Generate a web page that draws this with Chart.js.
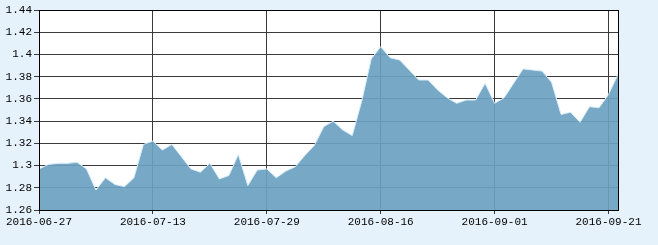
<!DOCTYPE html>
<html>
<head>
<meta charset="utf-8">
<script src="https://cdn.jsdelivr.net/npm/chart.js@4"></script>
<style>
  html, body { margin: 0; padding: 0; background: #e6f2fb; }
</style>
</head>
<body>
<canvas id="myChart" width="658" height="245" style="display:block"></canvas>
<script>
const dates = ['2016-06-27','2016-06-28','2016-06-29','2016-06-30','2016-07-01','2016-07-04','2016-07-05','2016-07-06','2016-07-07','2016-07-08',
  '2016-07-11','2016-07-12','2016-07-13','2016-07-14','2016-07-15','2016-07-18','2016-07-19','2016-07-20','2016-07-21','2016-07-22',
  '2016-07-25','2016-07-26','2016-07-27','2016-07-28','2016-07-29','2016-08-01','2016-08-02','2016-08-03','2016-08-04','2016-08-05',
  '2016-08-08','2016-08-09','2016-08-10','2016-08-11','2016-08-12','2016-08-15','2016-08-16','2016-08-17','2016-08-18','2016-08-19',
  '2016-08-22','2016-08-23','2016-08-24','2016-08-25','2016-08-26','2016-08-29','2016-08-30','2016-08-31','2016-09-01','2016-09-02',
  '2016-09-05','2016-09-06','2016-09-07','2016-09-08','2016-09-09','2016-09-12','2016-09-13','2016-09-14','2016-09-19','2016-09-20',
  '2016-09-21','2016-09-22']
const values = [1.297,1.301,1.302,1.302,1.303,1.297,1.278,1.289,1.283,1.281,
  1.289,1.319,1.322,1.314,1.319,1.308,1.297,1.294,1.302,1.288,
  1.291,1.310,1.282,1.296,1.297,1.289,1.295,1.299,1.309,1.318,
  1.335,1.340,1.332,1.327,1.358,1.396,1.407,1.397,1.395,1.386,
  1.377,1.377,1.368,1.361,1.356,1.359,1.359,1.374,1.356,1.361,
  1.374,1.387,1.386,1.385,1.375,1.346,1.348,1.339,1.353,1.352,
  1.364,1.382]
const labelEvery = 12
const yMin = 1.26, yMax = 1.44, yStep = 0.02

const bgPlugin = {
    id: 'bg',
    beforeDraw (chart) {
        const { ctx, chartArea: a } = chart
        ctx.save()
        ctx.fillStyle = '#e6f2fb'
        ctx.fillRect(0, 0, chart.width, chart.height)
        ctx.fillStyle = '#ffffff'
        ctx.fillRect(a.left, a.top, a.right - a.left, a.bottom - a.top)
        ctx.restore()
    },
    afterDraw (chart) {
        const { ctx, chartArea: a } = chart
        ctx.save()
        ctx.strokeStyle = '#000'
        ctx.lineWidth = 1
        ctx.strokeRect(Math.round(a.left) + 0.5, Math.round(a.top) + 0.5, Math.round(a.right - a.left), Math.round(a.bottom - a.top))
        ctx.restore()
    }
}

const font = { family: "'Liberation Mono', 'DejaVu Sans Mono', monospace", size: 11 }

new Chart(document.getElementById('myChart'), {
    type: 'line',
    data: {
        labels: dates,
        datasets: [{
            data: values,
            fill: 'start',
            backgroundColor: 'rgba(107,162,194,0.92)',
            borderColor: '#d8ecf8',
            borderWidth: 1,
            pointRadius: 0,
            tension: 0
        }]
    },
    options: {
        responsive: false,
        animation: false,
        layout: { padding: { top: 10, right: 40, left: 0, bottom: 0 } },
        plugins: { legend: { display: false }, tooltip: { enabled: false } },
        scales: {
            x: {
                offset: false,
                grid: {
                    color: c => c.index % labelEvery === 0 ? '#3a3a3a' : 'transparent',
                    tickLength: 4
                },
                border: { color: '#000' },
                ticks: {
                    autoSkip: false,
                    maxRotation: 0,
                    color: '#000',
                    font: font,
                    padding: 1,
                    callback: (v, i) => i % labelEvery === 0 ? dates[i] : ''
                },
                afterFit: s => { s.height = 35 }
            },
            y: {
                min: yMin,
                max: yMax,
                grid: { color: '#3a3a3a', tickLength: 5 },
                border: { color: '#000' },
                ticks: {
                    stepSize: yStep,
                    color: '#000',
                    font: font,
                    padding: 2,
                    callback: v => String(Number(v.toFixed(2)))
                },
                afterFit: s => { s.width = 39 }
            }
        }
    },
    plugins: [bgPlugin]
})
</script>
</body>
</html>
